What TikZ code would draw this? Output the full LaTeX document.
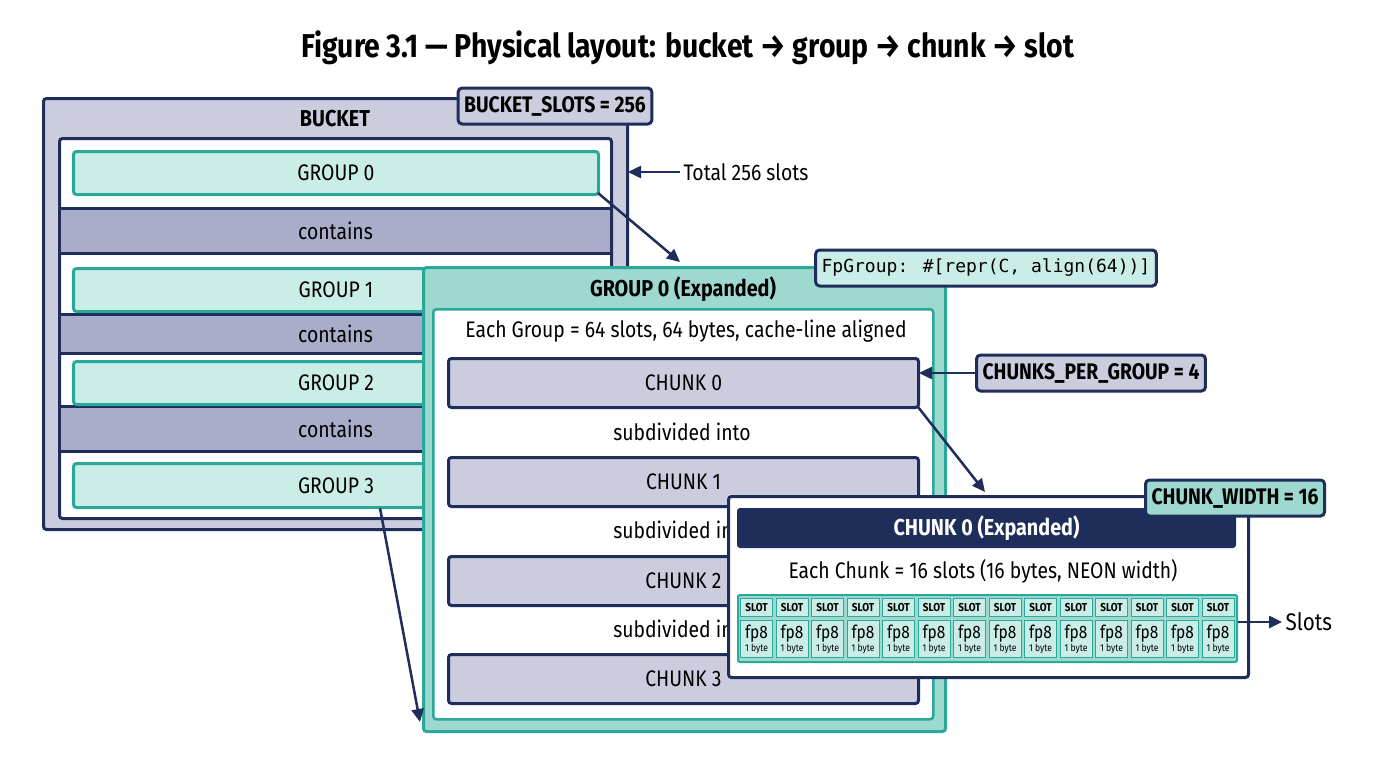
\documentclass[tikz,border=0pt]{standalone}
\usepackage{fontspec}
\setmainfont{Fira Sans}[FakeStretch=0.86]
\newfontfamily\codefont{DejaVu Sans Mono}
\usetikzlibrary{arrows.meta}
\definecolor{navy}{HTML}{1F2D5A}
\definecolor{lav}{HTML}{CBCDDF}
\definecolor{lavd}{HTML}{A9ADC9}
\definecolor{teal}{HTML}{2AA89A}
\definecolor{tealL}{HTML}{CBEDE7}
\definecolor{tealM}{HTML}{9ED9D0}
\tikzset{
 bx/.style={anchor=north west,inner sep=0pt,rounded corners=3pt,line width=3pt},
 navybox/.style={bx,draw=navy},
 grp/.style={bx,draw=teal,fill=tealL,font=\fontsize{22.5}{24}\selectfont},
 chk/.style={bx,draw=navy,fill=lav,font=\fontsize{22.5}{24}\selectfont},
 lbl/.style={draw=navy,line width=3pt,rounded corners=4pt,inner xsep=6pt,minimum height=36pt,font=\bfseries\fontsize{22.5}{24}\selectfont},
 txt/.style={font=\fontsize{22.5}{24}\selectfont,text=black},
 arr/.style={-{Triangle[length=13pt,width=12pt]},draw=navy,line width=2.5pt},
 cell/.style={anchor=north west,inner sep=0pt,fill=tealL,draw=teal,line width=1pt},
}
\begin{document}
\begin{tikzpicture}[x=1pt,y=-1pt]
\useasboundingbox (0,0) rectangle (1376,768);
\node[font=\bfseries\fontsize{33}{35}\selectfont] (title) at (688,48) {Figure 3.1 — Physical layout: bucket → group → chunk → slot};
% bucket
\node[navybox,fill=lav,minimum width=584pt,minimum height=431pt] (bucket) at (42,97) {};
\node[font=\bfseries\fontsize{23}{25}\selectfont] (bucketT) at (335,119) {BUCKET};
\node[navybox,fill=white,minimum width=552pt,minimum height=380pt] (bin) at (58,137) {};
\node[navybox,fill=lavd,rounded corners=0pt,minimum width=552pt,minimum height=45pt,font=\fontsize{22.5}{24}\selectfont] (c1) at (58,207) {contains};
\node[navybox,fill=lavd,rounded corners=0pt,minimum width=552pt,minimum height=39pt,font=\fontsize{22.5}{24}\selectfont] (c2) at (58,313) {contains};
\node[navybox,fill=lavd,rounded corners=0pt,minimum width=552pt,minimum height=45pt,font=\fontsize{22.5}{24}\selectfont] (c3) at (58,405) {contains};
\node[grp,minimum width=525pt,minimum height=43pt] (g0) at (72,150) {GROUP 0};
\node[grp,minimum width=525pt,minimum height=43pt] (g1) at (72,267) {GROUP 1};
\node[grp,minimum width=525pt,minimum height=43pt] (g2) at (72,360) {GROUP 2};
\node[grp,minimum width=525pt,minimum height=44pt] (g3) at (72,462) {GROUP 3};
\node[lbl,fill=lav] (bslots) at (555,106) {BUCKET\_SLOTS = 256};
\node[txt,anchor=west] (total) at (680,172) {Total 256 slots};
\draw[arr] (total.west) -- (628,172);
% group expanded
\node[bx,draw=teal,fill=tealM,minimum width=522pt,minimum height=464pt] (gexp) at (422,266) {};
\node[font=\bfseries\fontsize{23}{25}\selectfont] (gexpT) at (683,289) {GROUP 0 (Expanded)};
\node[bx,draw=teal,fill=white,line width=2.5pt,minimum width=500pt,minimum height=410pt] (gin) at (432,308) {};
\node[txt] (each) at (686,331) {Each Group = 64 slots, 64 bytes, cache-line aligned};
\node[chk,minimum width=470pt,minimum height=49pt] (k0) at (447,357) {CHUNK 0};
\node[txt] (s1) at (682,432) {subdivided into};
\node[chk,minimum width=470pt,minimum height=49pt] (k1) at (447,456) {CHUNK 1};
\node[txt] (s2) at (682,530) {subdivided into};
\node[chk,minimum width=470pt,minimum height=49pt] (k2) at (447,555) {CHUNK 2};
\node[txt] (s3) at (682,629) {subdivided into};
\node[chk,minimum width=470pt,minimum height=49pt] (k3) at (447,653) {CHUNK 3};
\node[lbl,fill=tealL,font=\codefont\fontsize{18}{20}\selectfont] (fp) at (986,268) {FpGroup: \#[repr(C, align(64))]};
\node[lbl,fill=lav] (cpg) at (1091,373) {CHUNKS\_PER\_GROUP = 4};
\draw[arr] (cpg.west) -- (919,373);
\draw[arr] (g0.south east) ++(-2,-3) -- (680,262);
\draw[arr] (380,508) -- (420,722);
% chunk expanded
\node[navybox,fill=white,minimum width=520pt,minimum height=181pt] (cexp) at (727,495) {};
\draw[arr] (k0.south east) ++(-2,-2) -- (985,492);
\node[bx,line width=0pt,fill=navy,minimum width=499pt,minimum height=40pt,text=white,font=\bfseries\fontsize{23}{25}\selectfont] (cexpT) at (737,508) {CHUNK 0 (Expanded)};
\node[lbl,fill=tealM] (cw) at (1235,498) {CHUNK\_WIDTH = 16};
\node[txt] (eachc) at (983,571) {Each Chunk = 16 slots (16 bytes, NEON width)};
\node[anchor=north west,inner sep=0pt,fill=tealM,draw=teal,line width=2pt,rounded corners=2pt,minimum width=499pt,minimum height=67pt] (strip) at (737,594) {};
\foreach \i in {0,...,13}{
  \pgfmathsetmacro{\xx}{740+35.5*\i}
  \node[cell,minimum width=32pt,minimum height=18pt,font=\bfseries\fontsize{11.5}{12}\selectfont] (sl\i) at (\xx,598) {SLOT};
  \node[cell,minimum width=32pt,minimum height=37pt,align=center,font=\fontsize{18}{18}\selectfont] (fp\i) at (\xx,620) {fp8\\[-5pt]{\fontsize{10}{10}\selectfont 1 byte}};
}
\node[txt,anchor=west,font=\fontsize{24}{26}\selectfont] (slots) at (1282,622) {Slots};
\draw[arr] (strip.east |- slots) -- (slots.west);
\end{tikzpicture}
\end{document}
